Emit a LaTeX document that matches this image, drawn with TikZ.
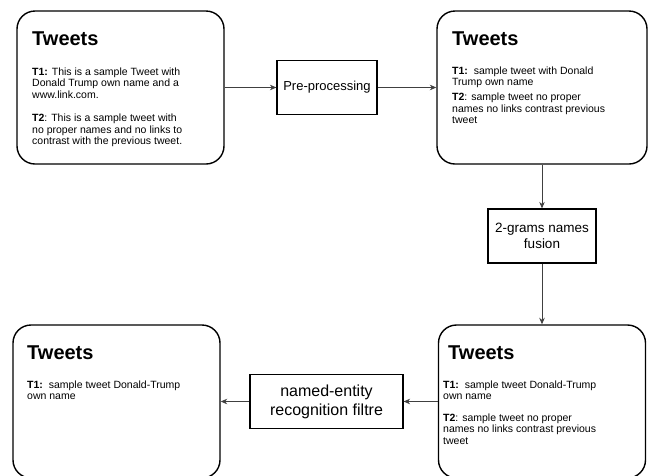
\documentclass[tikz,border=0pt]{standalone}
\usepackage{fontspec}
\setmainfont{Liberation Sans}
\usetikzlibrary{arrows.meta}
% lines of a paragraph, aligned on the baseline of the first line
\newcommand{\tweetlines}[1]{\begin{tabular}[t]{@{}l@{}}#1\end{tabular}}
\begin{document}
\begin{tikzpicture}[x=1pt,y=-1pt,
  tweetbox/.style={draw=black, line width=1.4pt, rounded corners=18pt,
    inner sep=0pt, minimum height=153pt},
  stepbox/.style={draw=black, line width=1.2pt, inner sep=0pt,
    minimum height=54pt, align=center},
  boxtitle/.style={anchor=base west, inner sep=0pt,
    font=\fontsize{20}{24}\selectfont\bfseries},
  tweettext/.style={anchor=base west, inner sep=0pt,
    font=\fontsize{10.5}{11.6}\selectfont},
  flow/.style={draw=black!75, line width=0.8pt,
    -{Stealth[length=6.5pt,width=5.5pt]}}]

\clip (0,0) rectangle (654,475);
\useasboundingbox (0,0) rectangle (654,475);

% tweet collections
\node[tweetbox, minimum width=207pt] (rawA) at (120.5,87.5) {};
\node[tweetbox, minimum width=210pt] (cleanB) at (542,87.5) {};
\node[tweetbox, minimum width=207pt] (fusedC) at (542,401.5) {};
\node[tweetbox, minimum width=207pt] (finalD) at (116.5,401.5) {};

% processing steps
\node[stepbox, minimum width=100pt, font=\fontsize{13}{16}\selectfont]
  (prep) at (327,87.5) {Pre-processing};
\node[stepbox, minimum width=108pt, font=\fontsize{13.5}{16}\selectfont]
  (grams) at (542,236) {2-grams names\\fusion};
\node[stepbox, minimum width=153pt, font=\fontsize{16}{19}\selectfont]
  (ner) at (326.5,401.5) {named-entity\\recognition filtre};

% contents of the first box
\node[boxtitle] (titleA) at (32,45.7) {Tweets};
\node[tweettext] (t1A) at (32,75) {\tweetlines{\textbf{T1:} This is a sample Tweet with\\Donald Trump own name and a\\www.link.com.}};
\node[tweettext] (t2A) at (32,121.5) {\tweetlines{\textbf{T2}: This is a sample tweet with\\no proper names and no links to\\contrast with the previous tweet.}};

% contents of the second box
\node[boxtitle] (titleB) at (452,45.7) {Tweets};
\node[tweettext] (t1B) at (452,74.3) {\tweetlines{\textbf{T1:}\ \ sample tweet with Donald\\Trump own name}};
\node[tweettext] (t2B) at (452,100.7) {\tweetlines{\textbf{T2}: sample tweet no proper\\names no links contrast previous\\tweet}};

% contents of the third box
\node[boxtitle] (titleC) at (448,359.5) {Tweets};
\node[tweettext] (t1C) at (443,388.3) {\tweetlines{\textbf{T1:}\ \ sample tweet Donald-Trump\\own name}};
\node[tweettext] (t2C) at (443,421) {\tweetlines{\textbf{T2}: sample tweet no proper\\names no links contrast previous\\tweet}};

% contents of the fourth box
\node[boxtitle] (titleD) at (27,359.5) {Tweets};
\node[tweettext] (t1D) at (27,388.3) {\tweetlines{\textbf{T1:}\ \ sample tweet Donald-Trump\\own name}};

% connectors
\draw[flow] (rawA.east) -- (prep.west);
\draw[flow] (prep.east) -- (cleanB.west);
\draw[flow] (cleanB.south) -- (grams.north);
\draw[flow] (grams.south) -- (fusedC.north);
\draw[flow] (fusedC.west) -- (ner.east);
\draw[flow] (ner.west) -- (finalD.east);
\end{tikzpicture}
\end{document}
